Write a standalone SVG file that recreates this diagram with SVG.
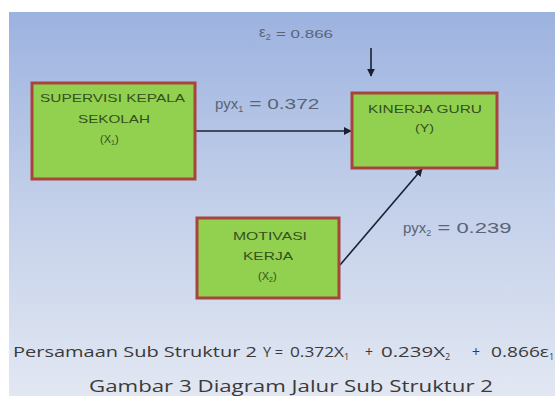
<svg xmlns="http://www.w3.org/2000/svg" width="555" height="396" viewBox="0 0 555 396">
<defs>
<linearGradient id="bg" x1="0" y1="0" x2="0" y2="1">
<stop offset="0" stop-color="#9cb2df"/>
<stop offset="0.5" stop-color="#c3d0ea"/>
<stop offset="1" stop-color="#e2e7f2"/>
</linearGradient>
<marker id="ah" viewBox="0 0 10 10" refX="9" refY="5" markerWidth="8" markerHeight="8" orient="auto" markerUnits="userSpaceOnUse">
<path d="M0,0 L10,5 L0,10 z" fill="#1a2033"/>
</marker>
<style>
.box{fill:#92d050;stroke:#a8443c;stroke-width:3}
.bt{font-family:"Liberation Sans",Arial,sans-serif;font-size:11px;fill:#34511d}
.lbl{font-family:"Liberation Sans",Arial,sans-serif;font-size:15px;fill:#5a6475}
.cap{font-family:"Open Sans","Liberation Sans",sans-serif;fill:#3a3a3a}
.con{stroke:#1a2033;stroke-width:1.6;fill:none}
</style>
</defs>
<rect x="0" y="0" width="555" height="396" fill="#ffffff"/>
<rect x="9" y="12" width="546" height="384" fill="url(#bg)"/>
<g id="connectors">
<line class="con" x1="195" y1="131" x2="351" y2="131" marker-end="url(#ah)"/>
<line class="con" x1="340" y1="265" x2="422" y2="169" marker-end="url(#ah)"/>
<line class="con" x1="371" y1="48" x2="371" y2="76" marker-end="url(#ah)"/>
</g>
<g id="node-x1">
<rect class="box" x="32" y="83" width="163" height="96"/>
<text class="bt" x="40" y="102" textLength="145" lengthAdjust="spacingAndGlyphs">SUPERVISI KEPALA</text>
<text class="bt" x="78" y="123" textLength="72" lengthAdjust="spacingAndGlyphs">SEKOLAH</text>
<text class="bt" x="100" y="143">(X<tspan font-size="7" dy="2">1</tspan><tspan dy="-2">)</tspan></text>
</g>
<g id="node-y">
<rect class="box" x="352" y="93" width="145" height="75"/>
<text class="bt" x="368" y="113" textLength="114" lengthAdjust="spacingAndGlyphs">KINERJA GURU</text>
<text class="bt" x="415" y="132" textLength="19" lengthAdjust="spacingAndGlyphs">(Y)</text>
</g>
<g id="node-x2">
<rect class="box" x="197" y="218" width="142" height="80"/>
<text class="bt" x="233" y="240" textLength="74" lengthAdjust="spacingAndGlyphs">MOTIVASI</text>
<text class="bt" x="243" y="260" textLength="50" lengthAdjust="spacingAndGlyphs">KERJA</text>
<text class="bt" x="258" y="280">(X<tspan font-size="7" dy="2">2</tspan><tspan dy="-2">)</tspan></text>
</g>
<g id="labels">
<text class="lbl" x="259" y="37" font-size="15">ε<tspan font-size="9" dy="3">2</tspan><tspan font-size="10" dy="-2" x="276" textLength="57" lengthAdjust="spacingAndGlyphs">= 0.866</tspan></text>
<text class="lbl" x="215" y="109">pyx<tspan font-size="9" dy="3">1</tspan><tspan dy="-3" textLength="76" lengthAdjust="spacingAndGlyphs"> = 0.372</tspan></text>
<text class="lbl" x="403" y="233">pyx<tspan font-size="9" dy="3">2</tspan><tspan dy="-3" textLength="80" lengthAdjust="spacingAndGlyphs"> = 0.239</tspan></text>
</g>
<g id="caption">
<text class="cap" font-size="14" y="357"><tspan x="13" textLength="244" lengthAdjust="spacingAndGlyphs">Persamaan Sub Struktur 2</tspan><tspan x="263" textLength="20" lengthAdjust="spacingAndGlyphs">Y =</tspan><tspan x="290" textLength="54" lengthAdjust="spacingAndGlyphs">0.372X</tspan><tspan font-size="9" dy="3">1</tspan><tspan dy="-3" x="365">+</tspan><tspan x="381" textLength="64" lengthAdjust="spacingAndGlyphs">0.239X</tspan><tspan font-size="9" dy="3">2</tspan><tspan dy="-3" x="472">+</tspan><tspan x="491" textLength="58" lengthAdjust="spacingAndGlyphs">0.866ε</tspan><tspan font-size="9" dy="3">1</tspan></text>
<text class="cap" x="89" y="392" font-size="17" textLength="404" lengthAdjust="spacingAndGlyphs">Gambar 3 Diagram Jalur Sub Struktur 2</text>
</g>
</svg>
